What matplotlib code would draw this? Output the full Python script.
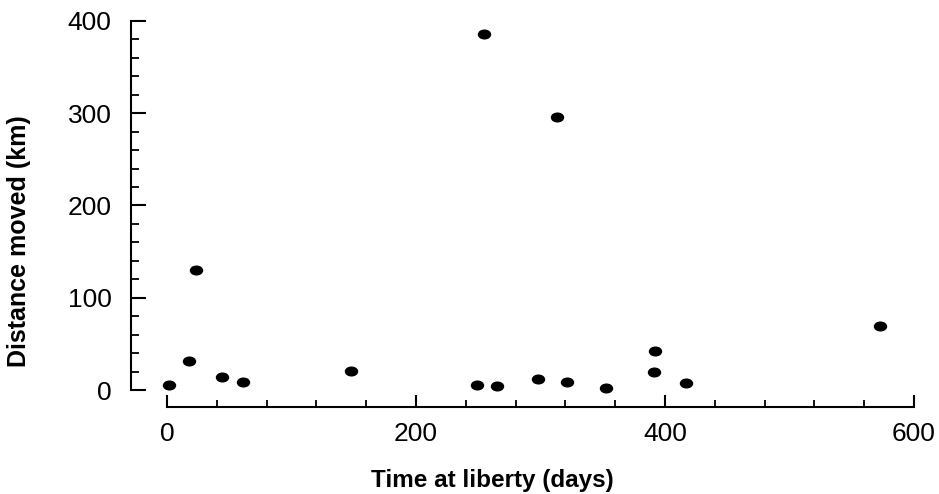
import numpy as np
import matplotlib.pyplot as plt
from matplotlib.path import Path
from matplotlib.ticker import MultipleLocator
import matplotlib.transforms as mtransforms

plt.rcParams['font.family'] = ['Liberation Sans', 'DejaVu Sans']

# days at liberty and distance moved
days = [2, 18, 23, 44, 61, 148, 249, 255, 265, 298, 313, 321, 353, 391, 392, 417, 573]
dist = [5, 31, 130, 14, 9, 21, 5, 386, 4, 12, 296, 9, 2, 20, 42, 8, 69]

xticks = [0, 200, 400, 600]
yticks = [0, 100, 200, 300, 400]

# slightly flattened dot, like the scanned figure
circ = Path.unit_circle()
ell = mtransforms.Affine2D().scale(1.0, 0.72).transform_path(circ)

fig = plt.figure(figsize=(9.39, 4.94), dpi=100)
ax = fig.add_axes([167/939, 104/494, 747/939, 369/494])

ax.scatter(days, dist, marker=ell, s=75, color='black', clip_on=False, zorder=3)

ax.set_xlim(0, 600)
ax.set_ylim(0, 400)
ax.set_xticks(xticks)
ax.set_yticks(yticks)
ax.xaxis.set_minor_locator(MultipleLocator(40))
ax.yaxis.set_minor_locator(MultipleLocator(20))

for s in ['top', 'right']:
    ax.spines[s].set_visible(False)
ax.spines['left'].set_position(('outward', 26))
ax.spines['bottom'].set_position(('outward', 12))
ax.spines['left'].set_linewidth(1.5)
ax.spines['bottom'].set_linewidth(1.5)

ax.tick_params(axis='y', which='major', direction='in', length=11, width=1.5,
               labelsize=19, pad=14)
ax.tick_params(axis='y', which='minor', direction='in', length=6, width=1.3)
ax.tick_params(axis='x', which='major', direction='in', length=9, width=1.5,
               labelsize=19, pad=11)
ax.tick_params(axis='x', which='minor', direction='in', length=5, width=1.3)

fig.text(492/939, 1 - 480/494, 'Time at liberty (days)', ha='center', va='center',
         fontsize=17.5, fontweight='bold')
fig.text(19/939, 1 - 241/494, 'Distance moved (km)', ha='center', va='center',
         rotation=90, fontsize=18, fontweight='bold')

fig.savefig('out.png', dpi=100)
